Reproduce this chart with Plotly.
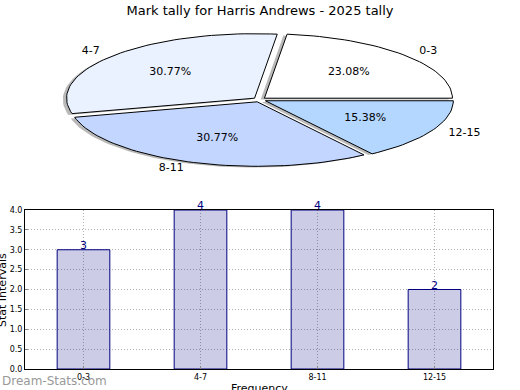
import math
import plotly.graph_objects as go

title = "Mark tally for Harris Andrews - 2025 tally"
categories = ["0-3", "4-7", "8-11", "12-15"]
counts = [3, 4, 4, 2]
pie_colors = ["#FFFFFF", "#EAF1FF", "#C3D6FF", "#B3D7FF"]
bar_fill = "rgba(0,0,128,0.2)"
bar_edge = "#000080"
x_title = "Frequency"
y_title = "Stat Intervals"
watermark = "Dream-Stats.com"

explode = 0.035
label_dist = 1.1
pct_dist = 0.6
shadow_dx, shadow_dy = -0.02, -0.02

fig = go.Figure()

total = sum(counts)
start = 0.0
wedges = []
for cat, val, col in zip(categories, counts, pie_colors):
    frac = val / total
    t1 = start
    t2 = start + frac * 360.0
    mid = math.radians((t1 + t2) / 2)
    ox, oy = explode * math.cos(mid), explode * math.sin(mid)
    n = max(8, int((t2 - t1) / 2))
    xs = [ox]
    ys = [oy]
    for i in range(n + 1):
        a = math.radians(t1 + (t2 - t1) * i / n)
        xs.append(ox + math.cos(a))
        ys.append(oy + math.sin(a))
    xs.append(ox)
    ys.append(oy)
    wedges.append((cat, frac, col, xs, ys, mid, ox, oy))
    start = t2

# shadows first
for cat, frac, col, xs, ys, mid, ox, oy in wedges:
    fig.add_trace(go.Scatter(
        x=[v + shadow_dx for v in xs], y=[v + shadow_dy for v in ys],
        fill="toself", mode="lines", line=dict(width=0),
        fillcolor="rgba(100,100,100,0.45)", hoverinfo="skip", showlegend=False,
        xaxis="x2", yaxis="y2"))

for cat, frac, col, xs, ys, mid, ox, oy in wedges:
    fig.add_trace(go.Scatter(
        x=xs, y=ys, fill="toself", mode="lines",
        line=dict(color="black", width=1), fillcolor=col,
        hoverinfo="skip", showlegend=False, xaxis="x2", yaxis="y2"))

for cat, frac, col, xs, ys, mid, ox, oy in wedges:
    lx = ox + label_dist * math.cos(mid)
    ly = oy + label_dist * math.sin(mid)
    pos = "middle right" if lx > 0 else "middle left"
    fig.add_trace(go.Scatter(
        x=[lx], y=[ly], mode="text", text=[cat], textposition=pos,
        textfont=dict(size=11, color="black"), showlegend=False,
        hoverinfo="skip", xaxis="x2", yaxis="y2", cliponaxis=False))
    px = ox + pct_dist * math.cos(mid)
    py = oy + pct_dist * math.sin(mid)
    fig.add_trace(go.Scatter(
        x=[px], y=[py], mode="text", text=["%.2f%%" % (frac * 100)],
        textposition="middle center",
        textfont=dict(size=11, color="black"), showlegend=False,
        hoverinfo="skip", xaxis="x2", yaxis="y2", cliponaxis=False))

fig.add_trace(go.Bar(
    x=categories, y=counts, width=0.45,
    marker=dict(color=bar_fill, line=dict(color=bar_edge, width=1)),
    showlegend=False, xaxis="x", yaxis="y"))

annotations = []
for cat, val in zip(categories, counts):
    annotations.append(dict(x=cat, y=val, xref="x", yref="y", text=str(val),
                            showarrow=False, yanchor="bottom", yshift=-4,
                            font=dict(size=11, color=bar_edge)))

cx, cy = 259.5, 99.7
rx, ry = 188.0, 64.5
W, H = 520, 390
grid = dict(showgrid=True, gridcolor="#B0B0B0", griddash="1px,2px", gridwidth=1)

annotations += [
    dict(text=x_title, xref="paper", yref="paper", x=259 / W, y=1 - 388 / H,
         xanchor="center", yanchor="middle", showarrow=False,
         font=dict(size=11, color="black")),
    dict(text=y_title, xref="paper", yref="paper", x=2 / W, y=1 - 290 / H,
         xanchor="center", yanchor="middle", showarrow=False, textangle=-90,
         font=dict(size=11, color="black")),
    dict(text=watermark, xref="paper", yref="paper",
         x=0, y=1 - 381 / H, xanchor="left", yanchor="middle",
         showarrow=False,
         font=dict(size=12, color="#999999", family="DejaVu Sans")),
]

fig.update_layout(
    width=W, height=H,
    margin=dict(l=0, r=0, t=0, b=0),
    paper_bgcolor="white", plot_bgcolor="white",
    font=dict(family="DejaVu Sans", color="black"),
    title=dict(text=title, x=0.5, xanchor="center", y=1 - 10 / H,
               yanchor="middle", font=dict(size=13)),
    xaxis2=dict(domain=[0, 1], range=[-cx / rx, (W - cx) / rx],
                visible=False, fixedrange=True),
    yaxis2=dict(domain=[1 - 180 / H, 1 - 20 / H],
                range=[-(180 - cy) / ry, (cy - 20) / ry],
                visible=False, anchor="x2", fixedrange=True),
    xaxis=dict(domain=[25 / W, 493 / W], range=[-0.5, 3.5],
               showline=True, linecolor="black", linewidth=1, mirror=True,
               ticks="inside", ticklen=3, tickcolor="#888",
               tickfont=dict(size=8), **grid, automargin=False,
               anchor="y"),
    yaxis=dict(domain=[1 - 369 / H, 1 - 210 / H], range=[0, 4],
               dtick=0.5, tickformat=".1f",
               showline=True, linecolor="black", linewidth=1, mirror=True,
               ticks="inside", ticklen=3, tickcolor="#888",
               tickfont=dict(size=8), **grid, automargin=False,
               zeroline=False, anchor="x"),
    annotations=annotations,
)

fig.write_html("out.html", config={"displayModeBar": False},
               post_script=["document.body.style.margin='0';"
                            "document.body.style.overflow='hidden';"])
